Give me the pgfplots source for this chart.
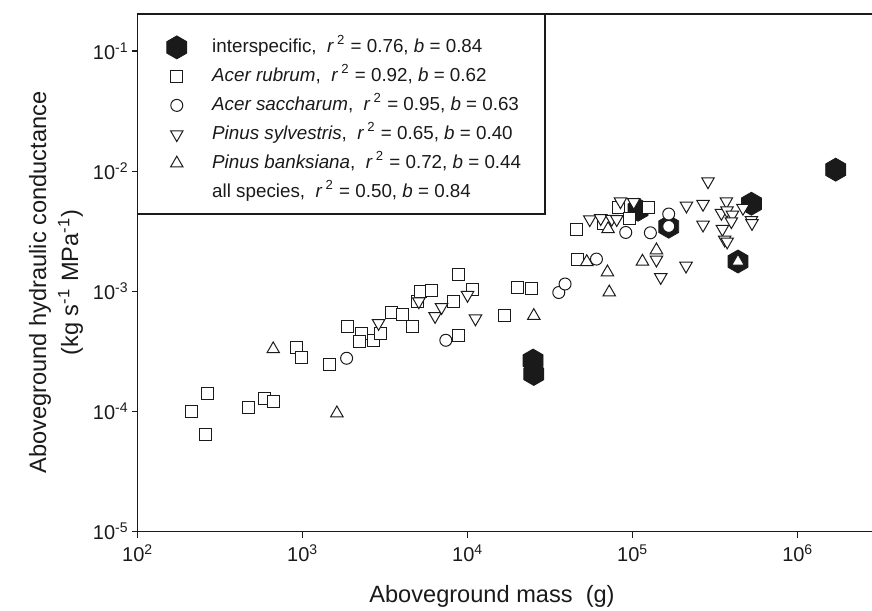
\documentclass[border=0pt]{standalone}
\usepackage{fontspec}
\setmainfont{Liberation Sans}
\usepackage{pgfplots}
\pgfplotsset{compat=1.18}
\definecolor{ink}{HTML}{1A1A1A}

\pgfdeclareplotmark{hexagon*}{%
  \pgfpathmoveto{\pgfpointpolar{90}{\pgfplotmarksize}}%
  \pgfpathlineto{\pgfpointpolar{150}{\pgfplotmarksize}}%
  \pgfpathlineto{\pgfpointpolar{210}{\pgfplotmarksize}}%
  \pgfpathlineto{\pgfpointpolar{270}{\pgfplotmarksize}}%
  \pgfpathlineto{\pgfpointpolar{330}{\pgfplotmarksize}}%
  \pgfpathlineto{\pgfpointpolar{30}{\pgfplotmarksize}}%
  \pgfpathclose
  \pgfusepathqfillstroke
}

\pgfplotsset{
  pt/.style={only marks, mark options={fill=white, draw=ink, line width=0.5pt},
    legend image code/.code={\path (0pt,0pt) (20pt,0pt); \draw[##1] plot coordinates {(10pt,0pt)};}},
  hex/.style={pt, mark=hexagon*, mark size=5.75pt, mark options={fill=ink, draw=ink}},
  sq/.style={pt, mark=square*, mark size=3pt},
  circ/.style={pt, mark=*, mark size=3pt},
  tdown/.style={pt, mark=triangle*, mark size=3.6pt,
    mark options={fill=white, draw=ink, line width=0.5pt, rotate=180}},
  tup/.style={pt, mark=triangle*, mark size=3.6pt},
}

\begin{document}
\begin{tikzpicture}
\useasboundingbox (-68.85pt,-39.25pt) rectangle (367.15pt,265.75pt);
\begin{axis}[
  at={(0,0)}, anchor=south west, scale only axis,
  width=367.15pt, height=258.75pt,
  xmode=log, ymode=log,
  xmin=100, xmax=2.818e6, ymin=1e-5, ymax=0.2036,
  axis x line*=bottom, axis y line*=left,
  axis line style={-, draw=ink, line width=0.65pt},
  clip=false,
  xminorticks=false, yminorticks=false,
  tick align=outside, major tick length=3pt,
  tick style={draw=ink, line width=0.6pt},
  xtick={100,1000,10000,100000,1000000},
  xticklabels={{10\textsuperscript{2}},{10\textsuperscript{3}},{10\textsuperscript{4}},{10\textsuperscript{5}},{10\textsuperscript{6}}},
  ytick={1e-5,1e-4,1e-3,1e-2,1e-1},
  yticklabels={{10\textsuperscript{-5}},{10\textsuperscript{-4}},{10\textsuperscript{-3}},{10\textsuperscript{-2}},{10\textsuperscript{-1}}},
  tick label style={font=\fontsize{10}{12}\selectfont, text=ink},
  yticklabel style={xshift=2pt},
  xlabel={Aboveground mass\ \ (g)},
  xlabel style={at={(axis description cs:0.4825,0)}, anchor=center, yshift=-32.25pt,
    font=\fontsize{11.8}{14}\selectfont, text=ink},
  ylabel={Aboveground hydraulic conductance\\(kg s\textsuperscript{-1} MPa\textsuperscript{-1})},
  ylabel style={at={(axis description cs:-0.1113,0.481)}, anchor=center,
    align=center, font=\fontsize{11.8}{16}\selectfont, text=ink},
  legend style={at={(axis description cs:0.02492,0.9585)}, anchor=north west,
    draw=none, fill=none, inner xsep=0pt, inner ysep=0pt, row sep=3pt, column sep=7.5pt,
    font=\fontsize{9.4}{11}\selectfont, text=ink,
    nodes={inner sep=0pt, text height=8.25pt, text depth=3.25pt}},
  legend cell align=left,
]
\addplot[hex] coordinates {
  (24890,2.65e-4) (25140,2.05e-4) (107700,4.78e-3) (165200,3.45e-3)
  (434300,1.77e-3) (523600,5.36e-3) (1.697e6,1.03e-2)};
\addlegendentry{interspecific,\ \ \textit{r}\,\textsuperscript{2} = 0.76, \textit{b} = 0.84}

\addplot[sq] coordinates {
  (264,1.40e-4) (212,1.0e-4) (256,6.46e-5) (472,1.077e-4) (583,1.27e-4)
  (667,1.205e-4) (918,3.40e-4) (985,2.81e-4) (1447,2.45e-4) (1879,5.09e-4)
  (2274,4.43e-4) (2212,3.82e-4) (2698,3.89e-4) (2955,4.43e-4) (3470,6.66e-4)
  (4027,6.46e-4) (4632,5.06e-4) (4938,8.22e-4) (5164,9.96e-4) (5994,1.02e-3)
  (8236,8.28e-4) (8790,1.372e-3) (10740,1.04e-3) (8830,4.26e-4) (16780,6.34e-4)
  (20110,1.084e-3) (24430,1.059e-3) (45600,3.30e-3) (45970,1.83e-3) (66440,3.70e-3)
  (81660,4.94e-3) (95900,4.02e-3) (123800,4.94e-3)};
\addlegendentry{\textit{Acer rubrum},\ \ \textit{r}\,\textsuperscript{2} = 0.92, \textit{b} = 0.62}

\addplot[circ] coordinates {
  (1845,2.77e-4) (7368,3.91e-4) (35630,9.77e-4) (38900,1.15e-3) (60260,1.855e-3)
  (90700,3.09e-3) (127900,3.07e-3) (165200,4.40e-3) (165200,3.47e-3)};
\addlegendentry{\textit{Acer saccharum},\ \ \textit{r}\,\textsuperscript{2} = 0.95, \textit{b} = 0.63}

\addplot[tdown] coordinates {
  (2882,5.43e-4) (5056,8.22e-4) (6340,6.21e-4) (6940,7.36e-4) (9970,9.31e-4)
  (11140,5.93e-4) (54900,3.97e-3) (63970,4.05e-3) (74620,4.00e-3) (80000,3.98e-3)
  (84240,5.60e-3) (101400,5.52e-3) (211500,5.16e-3) (266600,5.33e-3) (266600,3.58e-3)
  (285800,8.22e-3) (369400,5.60e-3) (344600,4.48e-3) (372500,4.71e-3) (401800,4.34e-3)
  (396100,3.82e-3) (349400,3.30e-3) (360600,2.69e-3) (373500,2.59e-3) (465600,4.94e-3)
  (523600,3.91e-3) (528000,3.69e-3) (139200,1.83e-3) (147800,1.31e-3) (210300,1.63e-3)};
\addlegendentry{\textit{Pinus sylvestris},\ \ \textit{r}\,\textsuperscript{2} = 0.65, \textit{b} = 0.40}

\addplot[tup] coordinates {
  (662.6,3.30e-4) (1611,9.66e-5) (25140,6.25e-4) (52650,1.755e-3) (70260,1.44e-3)
  (72050,9.81e-4) (70860,3.30e-3) (114500,1.77e-3) (139200,2.20e-3) (434300,1.77e-3)};
\addlegendentry{\textit{Pinus banksiana},\ \ \textit{r}\,\textsuperscript{2} = 0.72, \textit{b} = 0.44}

\addlegendimage{empty legend}
\addlegendentry{all species,\ \ \textit{r}\,\textsuperscript{2} = 0.50, \textit{b} = 0.84}

\draw[ink, line width=0.65pt] (rel axis cs:0,1) -- (rel axis cs:1,1);
\draw[ink, line width=0.6pt] (rel axis cs:0,1) rectangle (rel axis cs:0.5547,0.6135);
\end{axis}
\end{tikzpicture}
\end{document}
